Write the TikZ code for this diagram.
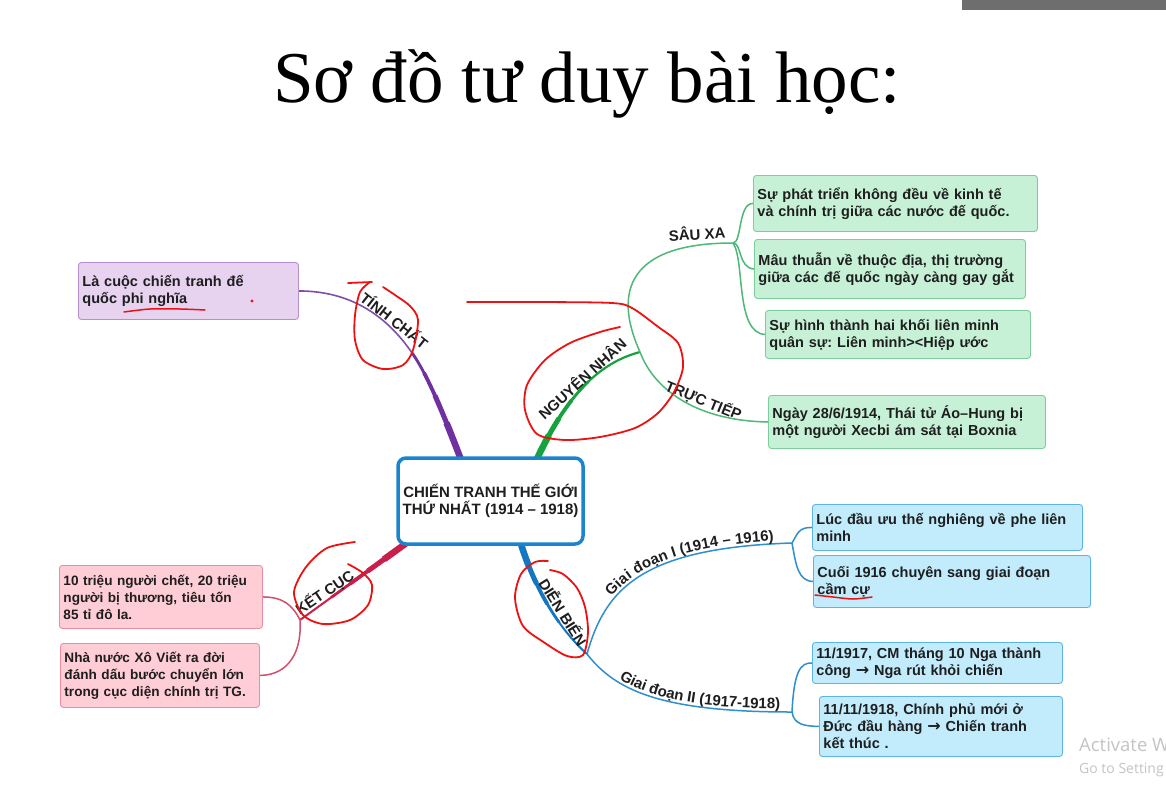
\documentclass[tikz,border=0pt]{standalone}
\usepackage{fontspec}
\setmainfont{Liberation Sans}
\newfontfamily\titlefont{Liberation Serif}
\newfontfamily\winfont{Open Sans}
\newfontfamily\arrfont{DejaVu Sans}
\usetikzlibrary{calc,decorations.text}
\pgfdeclarelayer{bg}
\pgfsetlayers{bg,main}
\frenchspacing
\definecolor{txt}{HTML}{1E1E1E}
\definecolor{pthick}{HTML}{7030A0}
\definecolor{pthin}{HTML}{7E4FA6}
\definecolor{pfill}{HTML}{E7D2F0}
\definecolor{pline}{HTML}{B58ECB}
\definecolor{gthick}{HTML}{16A23C}
\definecolor{gthin}{HTML}{4DB878}
\definecolor{gfill}{HTML}{C6F1D6}
\definecolor{gline}{HTML}{7CCF9C}
\definecolor{kthick}{HTML}{C8204A}
\definecolor{kthin}{HTML}{D0506C}
\definecolor{kfill}{HTML}{FFCDD6}
\definecolor{kline}{HTML}{EE8C9F}
\definecolor{bthick}{HTML}{1577C2}
\definecolor{bthin}{HTML}{2E8FD0}
\definecolor{bfill}{HTML}{C2EBFB}
\definecolor{bline}{HTML}{5DB5E3}
\definecolor{cblue}{HTML}{1B84CF}
\definecolor{annotred}{HTML}{EE1111}
\definecolor{barg}{HTML}{6E6E6E}
\definecolor{wmark}{HTML}{C4C4C4}
\newcommand{\lblfont}{\bfseries\fontsize{15}{16}\selectfont}
\newcommand{\boxfont}{\bfseries\fontsize{14.5}{17}\selectfont}
\newcommand{\pinkfont}{\bfseries\fontsize{13.6}{17}\selectfont}
\newcommand{\rarr}{{\arrfont\bfseries\fontsize{16}{17}\selectfont →}}
\begin{document}
\begin{tikzpicture}[x=1pt,y=-1pt,
  leaf/.style={draw, rounded corners=3pt, line width=0.9pt, anchor=north west, align=left, inner xsep=4pt, inner ysep=1pt, font=\boxfont, text=txt},
  pbox/.style={leaf, fill=pfill, draw=pline},
  gbox/.style={leaf, fill=gfill, draw=gline},
  kbox/.style={leaf, fill=kfill, draw=kline, font=\pinkfont},
  bbox/.style={leaf, fill=bfill, draw=bline},
  lbl/.style={font=\lblfont, text=txt, inner sep=1pt},
  twig/.style={line width=1.5pt},
  taperA/.style={line width=6.5pt, dash pattern=on #1 off 2000pt},
  taperB/.style={line width=5pt, dash pattern=on #1 off 2000pt},
  taperC/.style={line width=3.8pt, dash pattern=on #1 off 2000pt},
  taperD/.style={line width=2.8pt, dash pattern=on #1 off 2000pt},
  annot/.style={draw=annotred, line width=1.8pt, line cap=round, line join=round}
]
\useasboundingbox (0,0) rectangle (1166,806);
\clip (0,0) rectangle (1166,806);

% title
\node[font=\titlefont\fontsize{73}{80}\selectfont, anchor=base, inner sep=0pt, text=black] (title) at (587,102) {Sơ đồ tư duy bài học:};

% centre
\node[draw=cblue, line width=3.5pt, fill=white, rounded corners=8pt, minimum width=185pt, minimum height=86pt, align=center, font=\bfseries\fontsize{15}{17}\selectfont, text=txt, inner sep=1pt] (C) at (490.5,501) {CHIẾN TRANH THẾ GIỚI\\THỨ NHẤT (1914 – 1918)};

% leaves
\node[pbox, text width=212pt, minimum height=57pt] (tcb) at (78,262) {Là cuộc chiến tranh đế\\quốc phi nghĩa};

\node[gbox, text width=276pt, minimum height=56pt] (s1) at (753,175) {Sự phát triển không đều về kinh tế\\và chính trị giữa các nước đế quốc.};
\node[gbox, text width=263pt, minimum height=59pt] (s2) at (754,239) {Mâu thuẫn về thuộc địa, thị trường\\giữa các đế quốc ngày càng gay gắt};
\node[gbox, text width=257pt, minimum height=48pt] (s3) at (765,310) {Sự hình thành hai khối liên minh\\quân sự: Liên minh><Hiệp ước};
\node[gbox, text width=269pt, minimum height=53pt] (tt) at (768,395) {Ngày 28/6/1914, Thái tử Áo–Hung bị\\một người Xecbi ám sát tại Boxnia};

\node[kbox, text width=195pt, minimum height=63pt] (k1) at (59,565) {10 triệu người chết, 20 triệu\\người bị thương, tiêu tốn\\85 tỉ đô la.};
\node[kbox, text width=191pt, minimum height=64pt] (k2) at (60,643) {Nhà nước Xô Viết ra đời\\đánh dấu bước chuyển lớn\\trong cục diện chính trị TG.};

\node[bbox, text width=262pt, minimum height=46pt] (b1) at (812,504) {Lúc đầu ưu thế nghiêng về phe liên\\minh};
\node[bbox, text width=269pt, minimum height=52pt] (b2) at (813,555) {Cuối 1916 chuyên sang giai đoạn\\cầm cự};
\node[bbox, text width=242pt, minimum height=41pt] (b3) at (812,642) {11/1917, CM tháng 10 Nga thành\\công \rarr{} Nga rút khỏi chiến};
\node[bbox, text width=235pt, minimum height=60pt] (b4) at (819,696) {11/11/1918, Chính phủ mới ở\\Đức đầu hàng \rarr{} Chiến tranh\\kết thúc .};

% junctions
\coordinate (nn) at (640,352);
\coordinate (sx) at (733,243);
\coordinate (kc) at (300,620);
\coordinate (db) at (587,654);
\coordinate (g1) at (792,543);
\coordinate (g2) at (792,712);
\coordinate (p0) at ($(C.north west)+(65,4)$);
\coordinate (n0) at ($(C.north west)+(140,4)$);
\coordinate (k0) at ($(C.south west)+(12,-4)$);
\coordinate (d0) at ($(C.south west)+(124,-4)$);

\begin{pgfonlayer}{bg}
\fill[white] (0,0) rectangle (1166,806);
\fill[barg] (962,0) rectangle (1166,10);
% purple branch
\draw[pthin, line width=1.6pt] (p0) .. controls (440,405) and (425,370) .. (410,350) .. controls (385,315) and (350,291) .. (tcb.east);
\draw[pthick, taperD=118pt] (p0) .. controls (440,405) and (425,370) .. (410,350);
\draw[pthick, taperC=95pt] (p0) .. controls (440,405) and (425,370) .. (410,350);
\draw[pthick, taperB=70pt] (p0) .. controls (440,405) and (425,370) .. (410,350);
\draw[pthick, taperA=40pt] (p0) .. controls (440,405) and (425,370) .. (410,350);
% green branch
\draw[gthick, line width=2.2pt] (n0) .. controls (560,410) and (590,365) .. (nn);
\draw[gthick, taperD=95pt] (n0) .. controls (560,410) and (590,365) .. (nn);
\draw[gthick, taperC=70pt] (n0) .. controls (560,410) and (590,365) .. (nn);
\draw[gthick, taperB=48pt] (n0) .. controls (560,410) and (590,365) .. (nn);
\draw[gthick, taperA=28pt] (n0) .. controls (560,410) and (590,365) .. (nn);
\draw[gthin, twig] (nn) .. controls (612,290) and (630,243) .. (sx);
\draw[gthin, twig] (nn) .. controls (655,392) and (700,421) .. (tt.west);
\draw[gthin, twig] (sx) .. controls (742,243) and (738,203) .. (s1.west);
\draw[gthin, twig] (sx) .. controls (742,243) and (738,268) .. (s2.west);
\draw[gthin, twig] (sx) .. controls (745,260) and (735,333) .. (s3.west);
% crimson branch
\draw[kthick, line width=2pt] (k0) -- (kc);
\draw[kthick, taperD=95pt] (k0) -- (kc);
\draw[kthick, taperC=72pt] (k0) -- (kc);
\draw[kthick, taperB=50pt] (k0) -- (kc);
\draw[kthick, taperA=30pt] (k0) -- (kc);
\draw[kthin, twig] (kc) .. controls (292,604) and (282,597) .. (k1.east);
\draw[kthin, twig] (kc) .. controls (302,650) and (290,675) .. (k2.east);
% blue branch
\draw[bthick, line width=2pt] (d0) .. controls (535,590) and (560,630) .. (db);
\draw[bthick, taperD=90pt] (d0) .. controls (535,590) and (560,630) .. (db);
\draw[bthick, taperC=68pt] (d0) .. controls (535,590) and (560,630) .. (db);
\draw[bthick, taperB=45pt] (d0) .. controls (535,590) and (560,630) .. (db);
\draw[bthick, taperA=26pt] (d0) .. controls (535,590) and (560,630) .. (db);
\draw[bthin, twig] (db) .. controls (605,590) and (640,548) .. (g1);
\draw[bthin, twig] (db) .. controls (615,690) and (660,712) .. (g2);
\draw[bthin, twig] (g1) .. controls (797,535) and (798,527) .. (b1.west);
\draw[bthin, twig] (g1) .. controls (796,565) and (798,581) .. (b2.west);
\draw[bthin, twig] (g2) .. controls (794,672) and (800,662.5) .. (b3.west);
\draw[bthin, twig] (g2) .. controls (794,725) and (805,726) .. (b4.west);
\end{pgfonlayer}

% branch labels
\node[lbl, anchor=south, rotate=-38] (ltc) at (390,326) {TÍNH CHẤT};
\node[lbl, anchor=south, rotate=42] (lnn) at (587,384) {NGUYÊN NHÂN};
\node[lbl, rotate=3] (lsx) at (697,233) {SÂU XA};
\node[lbl, anchor=south, rotate=-22] (ltt) at (700,409) {TRỰC TIẾP};
\node[lbl, anchor=south, rotate=34] (lkc) at (330,600) {KẾT CỤC};
\node[lbl, anchor=south, rotate=-58] (ldb) at (557,616) {DIỄN BIẾN};
\path[decorate, decoration={text along path, text={|\lblfont|Giai đoạn I (1914 – 1916)}, text align={right, right indent=18pt}, raise=3pt, text color=txt}] (db) .. controls (605,590) and (640,548) .. (g1);
\path[decorate, decoration={text along path, text={|\lblfont|Giai đoạn II (1917-1918)}, text align={right, right indent=12pt}, raise=3pt, text color=txt}] (db) .. controls (615,690) and (660,712) .. (g2);

% red hand annotations
\draw[annot] (348,283) -- (372,282);
\draw[annot] plot[smooth] coordinates {(370,282) (360,292) (355,315) (355,340) (363,360) (383,369) (403,365) (413,350) (418,320) (410,306) (395,295) (383,287)};
\draw[annot] plot[smooth] coordinates {(467,302) (540,302) (612,303) (632,308) (657,326) (678,343) (683,367) (674,392) (658,413) (635,428) (600,437) (565,440) (537,434) (525,410) (527,385) (545,360) (570,343) (600,332) (620,327)};
\draw[annot] plot[smooth] coordinates {(355,542) (327,548) (306,567) (294,592) (303,615) (323,624) (350,620) (368,605) (372,585) (363,573) (348,564)};
\draw[annot] plot[smooth] coordinates {(548,561) (535,562) (521,574) (515,598) (523,626) (545,643) (567,656) (583,655) (588,632) (585,607) (577,588) (563,574) (550,570)};
\draw[annot, line width=1.5pt] plot[smooth] coordinates {(124,312) (150,309) (180,309) (205,310)};
\draw[annot, line width=1.5pt] plot[smooth] coordinates {(815,595) (833,597) (853,599) (872,597)};
\fill[annotred] (252,301) circle (1.6);

% watermark
\node[anchor=base west, font=\winfont\fontsize{18.5}{20}\selectfont, text=wmark, inner sep=0pt] (act) at (1079,751) {Activate W};
\node[anchor=base west, font=\winfont\fontsize{14}{15}\selectfont, text=wmark, inner sep=0pt] (go) at (1079,773) {Go to Setting};
\end{tikzpicture}
\end{document}
